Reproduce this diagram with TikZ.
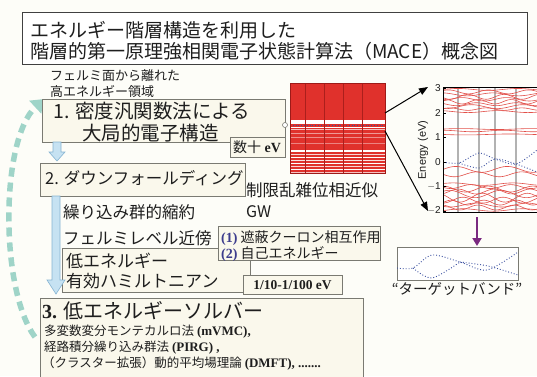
\documentclass[tikz,border=0pt]{standalone}
\usepackage{fontspec}
\setmainfont{Liberation Serif}
\newfontfamily\jp{Noto Sans CJK JP}
\newfontfamily\sansf{Liberation Sans}
\usetikzlibrary{arrows.meta}
\newcommand\myfs[1]{\fontsize{#1}{#1}\selectfont}
\definecolor{bg}{HTML}{FDFDF8}
\definecolor{boxfill}{HTML}{FAF8EC}
\definecolor{boxline}{HTML}{7A7A72}
\definecolor{lblue}{HTML}{C6E2F2}
\definecolor{lblueline}{HTML}{86B4D2}
\definecolor{tealdash}{HTML}{9FD4C8}
\definecolor{bandred}{HTML}{E0312C}
\definecolor{darkred}{HTML}{9E1A18}
\definecolor{linered}{HTML}{E2504A}
\definecolor{purp}{HTML}{7A2A80}
\definecolor{numblue}{HTML}{3C3C8C}
\definecolor{dotblue}{HTML}{3A4FA0}
\definecolor{ink}{HTML}{1E1E1E}
\begin{document}
\begin{tikzpicture}[x=1pt,y=-1pt,
  box/.style={draw=boxline, fill=boxfill, line width=0.8pt, inner sep=0pt, anchor=north west},
  txt/.style={anchor=west, inner sep=0pt, text=ink, font=\jp},
  lbarrow/.style={fill=lblue, draw=lblueline, line width=0.6pt},
  redline/.style={linered, line width=0.6pt},
  blueband/.style={dotblue, line width=0.9pt, dotted},
  ticklab/.style={anchor=east, inner sep=0pt, font=\sansf\myfs{10}, text=ink}]
\fill[bg] (0,0) rectangle (537,376);
\useasboundingbox (0,0) rectangle (537,376);

% title
\node[box, fill=white, draw=ink!85, minimum width=505pt, minimum height=52pt] (title) at (22,12) {};
\node[txt, font=\jp\myfs{19}] (t1) at (30,30) {エネルギー階層構造を利用した};
\node[txt, font=\jp\myfs{19}] (t2) at (30,51) {階層的第一原理強相関電子状態計算法（MACE）概念図};

% dashed feedback arrow
\coordinate (dstart) at (35,337);
\coordinate (dend) at (44,99);
\draw[tealdash, line width=5.5pt, dash pattern=on 9pt off 6pt, -{Triangle[length=12pt,width=17pt]}] (dstart) .. controls (0,290) and (0,140) .. (dend);

% high energy label
\node[txt, font=\jp\myfs{13}] (he1) at (50,76) {フェルミ面から離れた};
\node[txt, font=\jp\myfs{13}] (he2) at (50,91) {高エネルギー領域};

% box 1
\node[box, minimum width=243pt, minimum height=43pt] (b1) at (42,99) {};
\node[txt, font=\jp\myfs{19.5}] (b1a) at (53,111) {1. 密度汎関数法による};
\node[txt, font=\jp\myfs{19.5}] (b1b) at (82,133) {大局的電子構造};
\node[box, minimum width=55pt, minimum height=20pt] (ev1) at (230,137) {};
\node[txt, font=\myfs{14}] (ev1t) at (233,147.5) {{\jp 数十} \textbf{eV}};
\node[circle, draw=boxline, fill=white, inner sep=0pt, minimum size=5pt, line width=0.6pt] (fc) at (285,125) {};

% small light-blue arrow
\draw[lbarrow] (53,142) -- (53,152) -- (49,152) -- (57,161) -- (65,152) -- (61,152) -- (61,142) -- cycle;

% box 2
\node[box, minimum width=205pt, minimum height=33pt] (b2) at (40,163) {};
\node[txt, font=\jp\myfs{16.5}] (b2t) at (45,178) {2. ダウンフォールディング};
\node[txt, font=\jp\myfs{16.5}] (rpa) at (246,190) {制限乱雑位相近似};
\node[txt, font=\jp\myfs{16}] (gw) at (246,212) {GW};
\node[txt, font=\jp\myfs{16.5}] (rg) at (63,212) {繰り込み群的縮約};
\node[txt, font=\jp\myfs{16.5}] (fl) at (63,238) {フェルミレベル近傍};

% low energy box
\node[box, minimum width=188pt, minimum height=44pt] (b4) at (62,248) {};
\node[txt, font=\jp\myfs{17}] (le1) at (66,261) {低エネルギー};
\node[txt, font=\jp\myfs{17}] (le2) at (66,281) {有効ハミルトニアン};

% (1)(2) box
\node[box, minimum width=162pt, minimum height=34pt] (b12) at (218,226) {};
\node[txt, font=\jp\myfs{14}] (l1) at (221,238) {{\rmfamily\bfseries\color{numblue}(1)} 遮蔽クーロン相互作用};
\node[txt, font=\jp\myfs{14}] (l2) at (221,254) {{\rmfamily\bfseries\color{numblue}(2)} 自己エネルギー};

\node[box, minimum width=99pt, minimum height=19pt] (ev2) at (243,275) {};
\node[anchor=center, inner sep=0pt, font=\myfs{13.5}\bfseries, text=ink] (ev2t) at (292.5,285) {1/10-1/100 eV};

% long light-blue arrow
\draw[lbarrow] (52,196) -- (52,280) -- (47,280) -- (56,294) -- (65,280) -- (60,280) -- (60,196) -- cycle;

% box 3
\node[box, minimum width=323pt, minimum height=95pt] (b3) at (40,298) {};
\node[txt, font=\jp\myfs{20}] (s0) at (42,311) {{\rmfamily\bfseries 3.} 低エネルギーソルバー};
\node[txt, font=\jp\myfs{12.5}] (s1) at (44,332) {多変数変分モンテカルロ法 {\rmfamily\bfseries\myfs{13}(mVMC),}};
\node[txt, font=\jp\myfs{12.5}] (s2) at (44,348) {経路積分繰り込み群法 {\rmfamily\bfseries\myfs{13}(PIRG) ,}};
\node[txt, font=\jp\myfs{12.5}] (s3) at (42,364) {（クラスター拡張）動的平均場理論 {\rmfamily\bfseries\myfs{13}(DMFT), .......}};

% red band image
\node[draw=darkred, fill=bandred, line width=0.8pt, minimum width=95pt, minimum height=90pt, inner sep=0pt, anchor=north west] (redimg) at (290,83) {};
\begin{scope}
\clip (290,83) rectangle (385,173);
\foreach \yy/\ww/\cc in {121/1.2/white, 123/1.5/white, 127.5/1.6/white, 129.5/1.0/white!70!bandred, 133/0.8/white!50!bandred, 137/1.0/white!45!bandred, 143/0.8/white!40!bandred, 151/1.4/white, 154.5/1.0/white!80!bandred, 157.5/1.3/white, 160.5/1.0/white!85!bandred, 163.5/1.4/white, 166.5/1.0/white!80!bandred, 169.5/1.3/white, 172/0.8/white!70!bandred}
  \draw[\cc, line width=\ww pt] (290,\yy) -- (385,\yy);
\draw[dotblue, line width=0.8pt, dotted] (290,125) -- (385,125);
\foreach \xx in {305,324,343,362}
  \draw[darkred!80!bandred, line width=0.6pt] (\xx,83) -- (\xx,173);
\end{scope}
\draw[darkred, line width=0.8pt] (290,83) rectangle (385,173);

% band plot
\begin{scope}
\clip (443,87) rectangle (537,212);
\fill[white] (443,87) rectangle (537,212);
\foreach \xx in {458,479,495,516}
  \draw[black!30, line width=1.2pt] (\xx,87) -- (\xx,212);
\foreach \E/\a/\k/\p in {2.95/0.04/6/0, 2.85/0.08/9/40, 2.75/0.06/7/100, 2.65/0.1/10/200, 2.55/0.07/8/300, 2.45/0.09/11/60, 2.35/0.06/9/150, 2.25/0.08/7/250, 2.15/0.05/10/20, 2.05/0.04/6/120, 1.34/0.02/5/0, 1.26/0.03/6/90, 1.12/0.02/4/180, -0.3/0.12/7/0, -0.5/0.1/8/180, -0.9/0.05/6/30, -1.0/0.08/9/200, -1.1/0.12/8/90, -1.2/0.1/10/300, -1.3/0.15/7/45, -1.45/0.18/8/135, -1.55/0.12/9/270, -1.65/0.1/11/0, -1.75/0.08/7/220, -1.85/0.1/10/100, -1.95/0.05/6/330}
  \draw[redline] plot[domain=443:537, samples=40, smooth] (\x, {162-24.6*(\E+\a*sin((\x-443)*\k+\p))});
\draw[blueband] plot[smooth] coordinates {(443,162) (459,163) (479,153) (495,159) (516,164) (537,150)};
\draw[blueband] plot[smooth] coordinates {(459,163) (479,168) (495,159) (516,164) (537,172)};
\end{scope}
\draw[black, line width=0.9pt] (537,87) -- (443,87) -- (443,212) -- (537,212);
\node[draw=none, minimum width=94pt, minimum height=125pt, inner sep=0pt, anchor=north west] (bandplot) at (443,87) {};
\foreach \E in {3,2,1,0,-1,-2} {
  \draw[black, line width=0.6pt] (443,{162-24.6*\E}) -- (446,{162-24.6*\E});
}
\node[ticklab] at (441,88) {3};
\node[ticklab] at (441,113) {2};
\node[ticklab] at (441,137.4) {1};
\node[ticklab] at (441,162) {0};
\node[ticklab] at (441,186.6) {$-$1};
\node[ticklab] at (441,210) {$-$2};
\node[rotate=90, inner sep=0pt, font=\sansf\myfs{11}, text=ink] (elab) at (423,150) {Energy (eV)};

% black arrows
\coordinate (ra1) at (385,113);
\coordinate (ra2) at (385,131);
\coordinate (tip1) at (428,87);
\coordinate (tip2) at (428,211);
\draw[black, line width=1pt, -{Triangle[length=9pt,width=7pt]}] (ra1) -- (tip1);
\draw[black, line width=1pt, -{Triangle[length=9pt,width=7pt]}] (ra2) -- (tip2);

% purple arrow
\coordinate (pa1) at (477,217);
\draw[purp, line width=2.2pt, -{Triangle[length=8pt,width=9pt]}] (pa1) -- (477,246);

% target band box
\node[box, fill=white, minimum width=121pt, minimum height=33pt] (target) at (397,247) {};
\begin{scope}
\clip (397,247) rectangle (518,280);
\draw[blueband] plot[smooth] coordinates {(397,268) (413,268) (432,255) (460,262) (487,270) (518,252)};
\draw[blueband] plot[smooth] coordinates {(413,268) (432,278) (460,262)};
\draw[blueband] plot[smooth] coordinates {(460,262) (488,266) (518,275)};
\end{scope}
\node[inner sep=0pt, font=\jp\myfs{14.5}, text=ink] (tlab) at (457,289) {“ターゲットバンド”};
\end{tikzpicture}
\end{document}
